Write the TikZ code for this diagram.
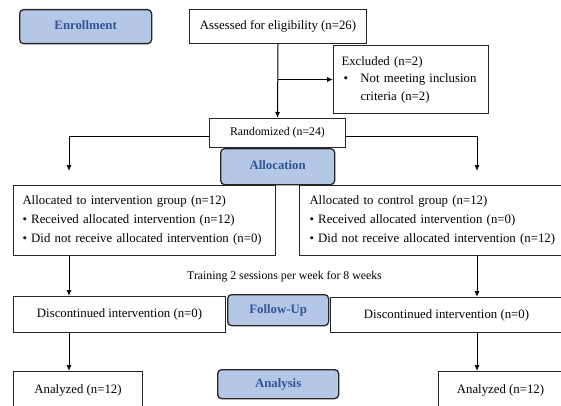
\documentclass[tikz,border=0pt]{standalone}
\usepackage{fontspec}
\setmainfont{Liberation Serif}
\usetikzlibrary{arrows.meta}
\definecolor{headfill}{HTML}{B4C7E7}
\definecolor{headtext}{HTML}{2F5597}
\begin{document}
\begin{tikzpicture}[x=1pt,y=-1pt,
 box/.style={draw=black!85, line width=1pt, inner sep=0pt, anchor=north west, font=\fontsize{12.8}{19}\selectfont},
 head/.style={draw=black!85, line width=1.3pt, rounded corners=4pt, fill=headfill, text=headtext, inner sep=0pt, anchor=north west, font=\fontsize{12.8}{15}\selectfont\bfseries},
 conn/.style={line width=1pt, draw=black},
 arr/.style={conn, -{Latex[length=6pt,width=5pt]}}]
\clip (0,0) rectangle (561,406);
\node[head, minimum width=132pt, minimum height=34pt, text depth=3pt] (enr) at (19,9) {Enrollment};
\node[box, minimum width=177pt, minimum height=34pt] (ass) at (189,9) {Assessed for eligibility (n=26)};
\node[box, minimum width=155pt, minimum height=68pt, align=left, text width=139pt, inner xsep=8pt, font=\fontsize{12.8}{17.5}\selectfont] (exc) at (333,45)
 {Excluded (n=2)\\\makebox[19pt][l]{\hspace{2pt}\textbullet}Not meeting inclusion\\\hspace*{19pt}criteria (n=2)};
\node[box, minimum width=136pt, minimum height=29pt, font=\fontsize{11.8}{14}\selectfont] (ran) at (209,118) {Randomized (n=24)};
\node[head, minimum width=114pt, minimum height=36pt, text depth=3pt] (all) at (220,148) {Allocation};
\node[box, minimum width=262pt, minimum height=70pt, align=left, text width=244pt, inner xsep=9pt] (la) at (13,185)
 {Allocated to intervention group (n=12)\\\textbullet{} Received allocated intervention (n=12)\\\textbullet{} Did not receive allocated intervention (n=0)};
\node[box, minimum width=263pt, minimum height=70pt, align=left, text width=262pt, inner xsep=10pt] (ra) at (299,185)
 {Allocated to control group (n=12)\\\textbullet{} Received allocated intervention (n=0)\\\textbullet{} Did not receive allocated intervention (n=12)};
\node[font=\fontsize{11.8}{14}\selectfont, inner sep=0pt] (trn) at (284.5,277) {Training 2 sessions per week for 8 weeks};
\node[head, minimum width=101pt, minimum height=31pt, text depth=2pt] (fu) at (227,294) {Follow-Up};
\node[box, minimum width=212pt, minimum height=36pt] (dl) at (13,296) {Discontinued intervention (n=0)};
\node[box, minimum width=232pt, minimum height=35pt] (dr) at (330,297) {Discontinued intervention (n=0)};
\node[head, minimum width=121pt, minimum height=29pt] (ana) at (217,369) {Analysis};
\node[box, minimum width=129pt, minimum height=38pt] (al) at (13,371) {Analyzed (n=12)};
\node[box, minimum width=124pt, minimum height=38pt] (ar) at (438,371) {Analyzed (n=12)};
\coordinate (lx) at (69,0);
\coordinate (rx) at (477,0);
\coordinate (bj) at (0,137);
\coordinate (lt) at (69,171);
\coordinate (rt) at (477,171);
\draw[arr] (ass.south) -- (ran.north);
\draw[arr] (ass.south |- exc.west) -- (exc.west);
\draw[arr] (ran.west |- bj) -| (lt);
\draw[arr] (ran.east |- bj) -| (rt);
\draw[arr] (la.south -| lx) -- (dl.north -| lx);
\draw[arr] (ra.south -| rx) -- (dr.north -| rx);
\draw[arr] (dl.south -| lx) -- (al.north -| lx);
\draw[arr] (dr.south -| rx) -- (ar.north -| rx);
\end{tikzpicture}
\end{document}
